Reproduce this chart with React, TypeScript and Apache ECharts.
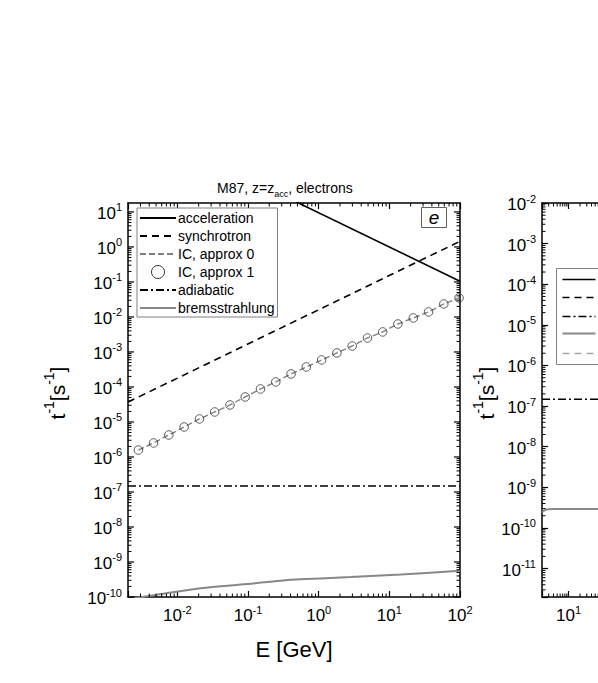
import React, { useEffect, useRef } from 'react';
import * as echarts from 'echarts';

const FONT = '"Liberation Sans", Arial, Helvetica, sans-serif';

// ---------- Left panel: M87, z = z_acc, electrons ----------
const accelerationE = [0.002, 100];
const accelerationRate = [4100, 0.105];

const synchrotronE = [0.002, 100];
const synchrotronRate = [3.7e-5, 1.45];

const icE = [0.0028, 0.0046, 0.00757, 0.01247, 0.0205, 0.0337, 0.0555, 0.0912, 0.15, 0.247, 0.406,
  0.668, 1.1, 1.81, 2.98, 4.9, 8.05, 13.2, 21.8, 35.9, 59.0, 97.0];
const icApprox0 = [1.58e-6, 2.51e-6, 4.25e-6, 7.2e-6, 1.22e-5, 1.93e-5, 3.06e-5, 5.18e-5, 8.77e-5,
  1.39e-4, 2.35e-4, 3.73e-4, 5.9e-4, 9.35e-4, 1.48e-3, 2.51e-3, 3.73e-3, 6.3e-3, 9.35e-3, 1.39e-2,
  2.35e-2, 3.49e-2];
const icApprox1 = [1.58e-6, 2.51e-6, 4.25e-6, 7.2e-6, 1.22e-5, 1.93e-5, 3.06e-5, 5.18e-5, 8.77e-5,
  1.39e-4, 2.35e-4, 3.73e-4, 5.9e-4, 9.35e-4, 1.48e-3, 2.51e-3, 3.73e-3, 6.3e-3, 9.35e-3, 1.39e-2,
  2.35e-2, 3.49e-2];

const adiabaticE = [0.002, 100];
const adiabaticRate = [1.48e-7, 1.48e-7];

const bremsE = [0.0025, 0.0032, 0.0049, 0.0214, 0.097, 0.289, 0.556, 2.84, 14.6, 100];
const bremsRate = [9.2e-11, 1.0e-10, 1.14e-10, 1.78e-10, 2.35e-10, 2.92e-10, 3.2e-10, 3.72e-10, 4.4e-10, 5.6e-10];

// ---------- Right panel (partially visible) ----------
const rAdiabaticE = [2, 70];
const rAdiabaticRate = [1.48e-7, 1.48e-7];
const rBremsE = [2, 2.6, 4, 70];
const rBremsRate = [2.45e-10, 2.85e-10, 2.95e-10, 2.95e-10];

// axis ranges
const leftX = [0.002, 100];
const leftY = [1e-10, 18];
const rightX = [2, 1e9];
const rightY = [2e-12, 1e-2];
const rightXLabelLimit = 10; // labels further right fall outside the picture

// left y-axis decade ticks (a log axis spanning > 10 decades gets 10-decade steps in ECharts)
const leftYDecades = [1e-10, 1e-9, 1e-8, 1e-7, 1e-6, 1e-5, 1e-4, 1e-3, 1e-2, 1e-1, 1, 10];

const legendNames = ['acceleration', 'synchrotron', 'IC, approx 0', 'IC, approx 1', 'adiabatic', 'bremsstrahlung'];

const zip = (xs: number[], ys: number[]) => xs.map((x, i) => [x, ys[i]]);

// minor tick positions of a log axis (2..9 x 10^k inside the range)
const minorTicks = (min: number, max: number) => {
  const out: number[] = [];
  for (let k = Math.floor(Math.log10(min)) - 1; k <= Math.ceil(Math.log10(max)); k++) {
    for (let m = 2; m <= 9; m++) {
      const v = m * Math.pow(10, k);
      if (v > min * 1.0001 && v < max * 0.9999) out.push(v);
    }
  }
  return out;
};

const expOf = (v: number) => {
  const l = Math.log10(v);
  const e = Math.round(l);
  return Math.abs(l - e) > 1e-6 ? null : e;
};
const powLabel = (v: number) => {
  const e = expOf(v);
  return e === null ? '' : `{b|10}{s|${e}}`;
};
const powLabelLimited = (v: number) => (v > rightXLabelLimit * 1.001 ? '' : powLabel(v));

const labelRich = {
  b: { fontSize: 17, fontFamily: FONT, color: '#000', lineHeight: 20, verticalAlign: 'bottom' },
  s: { fontSize: 11, fontFamily: FONT, color: '#000', lineHeight: 11, verticalAlign: 'top' },
};
const labelRichZr = {
  b: { fontSize: 17, fontFamily: FONT, fill: '#000', lineHeight: 20, verticalAlign: 'bottom' },
  s: { fontSize: 11, fontFamily: FONT, fill: '#000', lineHeight: 11, verticalAlign: 'top' },
};

const axisLineStyle = { lineStyle: { color: '#000', width: 1.5 } };

const mkX = (grid: number, range: number[], pos: 'bottom' | 'top', split: number, withName: boolean, fmt: any) => ({
  type: 'log',
  gridIndex: grid,
  position: pos,
  min: range[0],
  max: range[1],
  splitNumber: split,
  axisLine: { show: true, onZero: false, ...axisLineStyle },
  axisTick: { show: true, inside: true, length: 6, interval: 0, lineStyle: { color: '#000', width: 1.2 } },
  axisLabel: pos === 'bottom'
    ? { show: true, interval: 0, formatter: fmt, margin: 7, rich: labelRich, showMinLabel: true, showMaxLabel: true, hideOverlap: false }
    : { show: false },
  splitLine: { show: false },
  minorTick: { show: false },
  name: withName ? 'E [GeV]' : '',
  nameLocation: 'middle',
  nameGap: 41,
  nameTextStyle: { fontSize: 22, fontFamily: FONT, color: '#000' },
});

const yNameRich = {
  b: { fontSize: 21, fontFamily: FONT, color: '#000', lineHeight: 26, verticalAlign: 'bottom' },
  s: { fontSize: 14, fontFamily: FONT, color: '#000', lineHeight: 14, verticalAlign: 'top' },
};

const mkY = (grid: number, range: number[], pos: 'left' | 'right', split: number, nameGap: number, own: boolean) => ({
  type: 'log',
  gridIndex: grid,
  position: pos,
  min: range[0],
  max: range[1],
  splitNumber: split,
  axisLine: { show: true, onZero: false, ...axisLineStyle },
  axisTick: { show: own, inside: true, length: 6, interval: 0, lineStyle: { color: '#000', width: 1.2 } },
  axisLabel: pos === 'left' && own
    ? { show: true, interval: 0, formatter: powLabel, margin: 6, rich: labelRich, showMinLabel: true, showMaxLabel: true, hideOverlap: false }
    : { show: false },
  splitLine: { show: false },
  minorTick: { show: false },
  name: pos === 'left' ? '{b|t}{s|-1}{b|[s}{s|-1}{b|]}' : '',
  nameLocation: 'middle',
  nameRotate: 90,
  nameGap,
  nameTextStyle: { fontSize: 21, fontFamily: FONT, color: '#000', rich: yNameRich, padding: [0, 0, 0, 14] },
});

const tickLine = (x1: number, y1: number, x2: number, y2: number, w: number) => ({
  type: 'line',
  shape: { x1, y1, x2, y2 },
  style: { stroke: '#000', lineWidth: w },
});

// minor ticks along x (bottom + top)
const xMinorSeries = (xi: number, yi: number, xr: number[], yr: number[]) => ({
  type: 'custom',
  name: 'xminor' + xi,
  xAxisIndex: xi,
  yAxisIndex: yi,
  silent: true,
  clip: false,
  z: 5,
  data: minorTicks(xr[0], xr[1]).map((v) => [v, yr[0] * 10]),
  renderItem: (params: any, api: any) => {
    const cs = params.coordSys;
    const px = api.coord([api.value(0), api.value(1)])[0];
    return {
      type: 'group',
      children: [
        tickLine(px, cs.y + cs.height, px, cs.y + cs.height - 3.5, 1),
        tickLine(px, cs.y, px, cs.y + 3.5, 1),
      ],
    };
  },
});

// ticks along y (left + right); majors also get a label on the left
const yTickSeries = (name: string, xi: number, yi: number, xRef: number, values: number[], major: boolean) => ({
  type: 'custom',
  name,
  xAxisIndex: xi,
  yAxisIndex: yi,
  silent: true,
  clip: false,
  z: 5,
  data: values.map((v) => [xRef, v]),
  renderItem: (params: any, api: any) => {
    const cs = params.coordSys;
    const v = api.value(1);
    const py = api.coord([api.value(0), v])[1];
    const len = major ? 6 : 3.5;
    const w = major ? 1.2 : 1;
    const children: any[] = [
      tickLine(cs.x, py, cs.x + len, py, w),
      tickLine(cs.x + cs.width, py, cs.x + cs.width - len, py, w),
    ];
    if (major) {
      children.push({
        type: 'text',
        x: cs.x - 6,
        y: py,
        style: {
          text: powLabel(v),
          rich: labelRichZr,
          fill: '#000',
          align: 'right',
          verticalAlign: 'middle',
        },
      });
    }
    return { type: 'group', children };
  },
});

const hideSym = { opacity: 0 };

const App: React.FC = () => {
  const ref = useRef<HTMLDivElement>(null);

  useEffect(() => {
    document.body.style.margin = '0';
    if (!ref.current) return;
    const chart = echarts.init(ref.current, undefined, { renderer: 'svg' });

    const option: any = {
      animation: false,
      backgroundColor: '#fff',
      textStyle: { fontFamily: FONT },
      grid: [
        { left: 128, top: 203, width: 332, height: 394, containLabel: false },
        { left: 542, top: 203, width: 331, height: 394, containLabel: false },
      ],
      xAxis: [
        mkX(0, leftX, 'bottom', 5, true, powLabel),
        mkX(0, leftX, 'top', 5, false, powLabel),
        mkX(1, rightX, 'bottom', 8, false, powLabelLimited),
        mkX(1, rightX, 'top', 8, false, powLabelLimited),
      ],
      yAxis: [
        mkY(0, leftY, 'left', 10, 60, false),
        mkY(0, leftY, 'right', 10, 0, false),
        mkY(1, rightY, 'left', 10, 44, true),
        mkY(1, rightY, 'right', 10, 0, true),
      ],
      legend: {
        show: true,
        data: [
          { name: legendNames[0], itemStyle: hideSym },
          { name: legendNames[1], itemStyle: hideSym },
          { name: legendNames[2], itemStyle: hideSym },
          { name: legendNames[3], itemStyle: { color: '#fff', borderColor: '#000', borderWidth: 1 } },
          { name: legendNames[4], itemStyle: hideSym },
          { name: legendNames[5], itemStyle: hideSym },
        ],
        orient: 'vertical',
        left: 137,
        top: 208,
        itemWidth: 36,
        itemHeight: 13,
        itemGap: 4,
        padding: [3, 3, 2, 2],
        selectedMode: false,
        backgroundColor: '#fff',
        borderColor: '#808080',
        borderWidth: 1,
        textStyle: { fontSize: 14, fontFamily: FONT, color: '#000', padding: [0, 0, 0, -3] },
      },
      graphic: [
        {
          type: 'text',
          x: 217,
          y: 181,
          style: {
            text: '{a|M87, z=z}{c|acc}{a|, electrons}',
            fill: '#000',
            rich: {
              a: { fontSize: 14, fontFamily: FONT, fill: '#000', lineHeight: 14, verticalAlign: 'top' },
              c: { fontSize: 9, fontFamily: FONT, fill: '#000', lineHeight: 9, padding: [8, 0, 0, 0], verticalAlign: 'top' },
            },
          },
          z: 10,
        },
        {
          type: 'group',
          left: 421,
          top: 207,
          z: 10,
          children: [
            { type: 'rect', shape: { x: 0, y: 0, width: 25, height: 20 }, style: { fill: '#fff', stroke: '#606060', lineWidth: 1 } },
            {
              type: 'text',
              x: 12.5,
              y: 10,
              style: { text: 'e', fontSize: 19, fontStyle: 'italic', fontFamily: FONT, fill: '#000', align: 'center', verticalAlign: 'middle' },
            },
          ],
        },
        {
          type: 'group',
          left: 556,
          top: 268,
          z: 10,
          children: [
            { type: 'rect', shape: { x: 0, y: 0, width: 120, height: 96 }, style: { fill: '#fff', stroke: '#808080', lineWidth: 1 } },
            { type: 'line', shape: { x1: 6, y1: 11, x2: 39, y2: 11 }, style: { stroke: '#000', lineWidth: 1.6 } },
            { type: 'line', shape: { x1: 6, y1: 29, x2: 39, y2: 29 }, style: { stroke: '#000', lineWidth: 1.6, lineDash: [7, 5] } },
            { type: 'line', shape: { x1: 6, y1: 48, x2: 39, y2: 48 }, style: { stroke: '#000', lineWidth: 1.5, lineDash: [8, 3, 2, 3] } },
            { type: 'line', shape: { x1: 6, y1: 65, x2: 39, y2: 65 }, style: { stroke: '#888', lineWidth: 2 } },
            { type: 'line', shape: { x1: 6, y1: 85, x2: 39, y2: 85 }, style: { stroke: '#aaa', lineWidth: 1.5, lineDash: [7, 5] } },
          ],
        },
      ],
      series: [
        {
          name: 'bremsstrahlung',
          type: 'line',
          xAxisIndex: 0,
          yAxisIndex: 0,
          data: zip(bremsE, bremsRate),
          symbol: 'none',
          smooth: 0.3,
          clip: true,
          color: '#888',
          lineStyle: { color: '#888', width: 2 },
          z: 2,
        },
        {
          name: 'adiabatic',
          type: 'line',
          xAxisIndex: 0,
          yAxisIndex: 0,
          data: zip(adiabaticE, adiabaticRate),
          symbol: 'none',
          clip: true,
          color: '#000',
          lineStyle: { color: '#000', width: 1.5, type: [8, 3, 2, 3] },
          z: 3,
        },
        {
          name: 'IC, approx 0',
          type: 'line',
          xAxisIndex: 0,
          yAxisIndex: 0,
          data: zip(icE, icApprox0),
          symbol: 'none',
          clip: true,
          color: '#808080',
          lineStyle: { color: '#808080', width: 1.4, type: [6, 3] },
          z: 3,
        },
        {
          name: 'IC, approx 1',
          type: 'scatter',
          xAxisIndex: 0,
          yAxisIndex: 0,
          data: zip(icE, icApprox1),
          symbol: 'circle',
          symbolSize: 8.5,
          clip: true,
          itemStyle: { color: 'rgba(255,255,255,0)', borderColor: '#333', borderWidth: 1 },
          z: 4,
        },
        {
          name: 'synchrotron',
          type: 'line',
          xAxisIndex: 0,
          yAxisIndex: 0,
          data: zip(synchrotronE, synchrotronRate),
          symbol: 'none',
          clip: true,
          color: '#000',
          lineStyle: { color: '#000', width: 1.6, type: [7, 5] },
          z: 3,
        },
        {
          name: 'acceleration',
          type: 'line',
          xAxisIndex: 0,
          yAxisIndex: 0,
          data: zip(accelerationE, accelerationRate),
          symbol: 'none',
          clip: true,
          color: '#000',
          lineStyle: { color: '#000', width: 1.6 },
          z: 3,
        },
        {
          name: 'adiabatic, protons',
          type: 'line',
          xAxisIndex: 2,
          yAxisIndex: 2,
          data: zip(rAdiabaticE, rAdiabaticRate),
          symbol: 'none',
          clip: true,
          color: '#000',
          lineStyle: { color: '#000', width: 1.5, type: [8, 3, 2, 3] },
        },
        {
          name: 'bremsstrahlung, protons',
          type: 'line',
          xAxisIndex: 2,
          yAxisIndex: 2,
          data: zip(rBremsE, rBremsRate),
          symbol: 'none',
          smooth: 0.3,
          clip: true,
          color: '#888',
          lineStyle: { color: '#888', width: 2 },
        },
        xMinorSeries(0, 0, leftX, leftY),
        yTickSeries('ymajorL', 0, 0, 0.02, leftYDecades, true),
        yTickSeries('yminorL', 0, 0, 0.02, minorTicks(leftY[0], leftY[1]), false),
        xMinorSeries(2, 2, rightX, rightY),
        yTickSeries('yminorR', 2, 2, 20, minorTicks(rightY[0], rightY[1]), false),
      ],
    };

    chart.setOption(option);
    return () => chart.dispose();
  }, []);

  return (
    <div style={{ width: 598, height: 683, overflow: 'hidden', position: 'relative', background: '#fff' }}>
      <div ref={ref} style={{ width: 900, height: 683 }} />
    </div>
  );
};

export default App;
